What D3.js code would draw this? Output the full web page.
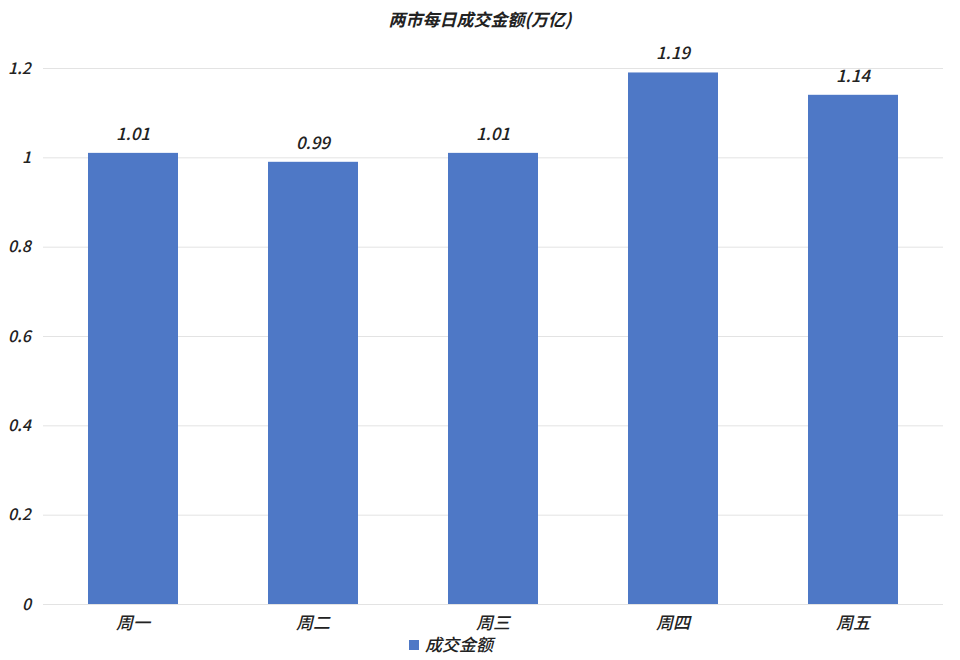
<!DOCTYPE html>
<html>
<head>
<meta charset="utf-8">
<script src="https://cdn.jsdelivr.net/npm/d3@7"></script>
<style>
  body { margin: 0; background: #fff; }
  text { font-family: "Noto Sans CJK SC", "Noto Sans", sans-serif; font-style: italic; font-weight: 500; fill: #222; }
  .grid line { stroke: #e3e3e3; }
  .grid path { display: none; }
</style>
</head>
<body>
<div id="graf"></div>
<script>
const days = ["周一", "周二", "周三", "周四", "周五"]
const amounts = [1.01, 0.99, 1.01, 1.19, 1.14]
const yTicks = [0, 0.2, 0.4, 0.6, 0.8, 1, 1.2]
const seriesName = "成交金额"
const title = "两市每日成交金额(万亿)"

const anchoTotal = 960
const altoTotal = 660
const margins = { left: 43, top: 68, right: 17, bottom: 56 }
const ancho = anchoTotal - margins.left - margins.right
const alto = altoTotal - margins.top - margins.bottom

const svg = d3.select("#graf")
  .append("svg")
  .attr("width", anchoTotal)
  .attr("height", altoTotal)

const g = svg.append("g")
  .attr("transform", `translate(${margins.left}, ${margins.top})`)

const x = d3.scaleBand().domain(days).range([0, ancho]).paddingInner(0.5).paddingOuter(0.25)
const y = d3.scaleLinear().domain([0, 1.2]).range([alto, 0])

// gridlines
g.append("g")
  .attr("class", "grid")
  .call(d3.axisLeft(y).tickValues(yTicks).tickSize(-ancho).tickFormat(""))

// y labels
g.selectAll(".ylab")
  .data(yTicks)
  .join("text")
  .attr("class", "ylab")
  .attr("x", -12)
  .attr("y", (d) => y(d))
  .attr("dy", "0.35em")
  .attr("text-anchor", "end")
  .style("font-size", "16px")
  .text((d) => d)

// bars
g.selectAll("rect.bar")
  .data(amounts)
  .join("rect")
  .attr("class", "bar")
  .attr("x", (d, i) => x(days[i]))
  .attr("y", (d) => y(d))
  .attr("width", x.bandwidth())
  .attr("height", (d) => alto - y(d))
  .attr("fill", "#4e78c6")

// value labels
g.selectAll(".vlab")
  .data(amounts)
  .join("text")
  .attr("class", "vlab")
  .attr("x", (d, i) => x(days[i]) + x.bandwidth() / 2)
  .attr("y", (d) => y(d) - 13)
  .attr("text-anchor", "middle")
  .style("font-size", "17px")
  .text((d) => d.toFixed(2))

// x labels
g.selectAll(".xlab")
  .data(days)
  .join("text")
  .attr("class", "xlab")
  .attr("x", (d) => x(d) + x.bandwidth() / 2)
  .attr("y", alto + 25)
  .attr("text-anchor", "middle")
  .style("font-size", "17px")
  .text((d) => d)

// title
svg.append("text")
  .attr("x", 480)
  .attr("y", 26)
  .attr("text-anchor", "middle")
  .style("font-size", "17px")
  .style("font-weight", "bold")
  .text(title)

// legend
const leg = svg.append("g").attr("transform", "translate(409, 645)")
leg.append("rect")
  .attr("x", 0).attr("y", -5)
  .attr("width", 10).attr("height", 10)
  .attr("fill", "#4e78c6")
leg.append("text")
  .attr("x", 16)
  .attr("y", 0)
  .attr("dy", "0.35em")
  .style("font-size", "17px")
  .text(seriesName)
</script>
</body>
</html>
